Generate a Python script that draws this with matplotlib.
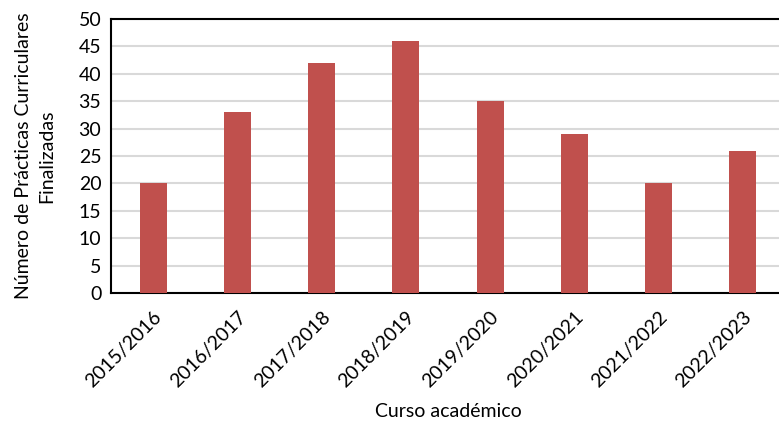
import matplotlib.pyplot as plt
import numpy as np

cursos = ["2015/2016", "2016/2017", "2017/2018", "2018/2019",
          "2019/2020", "2020/2021", "2021/2022", "2022/2023"]
practicas = [20, 33, 42, 46, 35, 29, 20, 26]

plt.rcParams["font.family"] = ["Lato", "DejaVu Sans"]

fig = plt.figure(figsize=(7.79, 4.25), dpi=100)
# left edge at the y spine, right edge runs past the figure border
ax = fig.add_axes([111 / 779, 1 - 293 / 425, 674 / 779, 274 / 425])

x = np.arange(len(cursos))
ax.bar(x, practicas, width=0.32, color="#C0504D", zorder=3)

ax.set_xlim(-0.5, len(cursos) - 0.5)
ax.set_ylim(0, 50)
ax.set_yticks(range(0, 51, 5))
ax.set_xticks(x)
ax.set_xticklabels(cursos, rotation=45, ha="right", rotation_mode="anchor")
ax.tick_params(length=0, labelsize=14, pad=7)
ax.tick_params(axis="x", pad=11)

ax.grid(axis="y", color="#D9D9D9", linewidth=1.5, zorder=0)
for side in ("left", "top", "bottom"):
    ax.spines[side].set_color("black")
    ax.spines[side].set_linewidth(1.5)
ax.spines["right"].set_visible(False)

ax.set_ylabel("Número de Prácticas Curriculares\nFinalizadas", fontsize=14,
              linespacing=1.45, labelpad=17)
ax.set_xlabel("Curso académico", fontsize=14, labelpad=9)

fig.savefig("out.png", dpi=100)
